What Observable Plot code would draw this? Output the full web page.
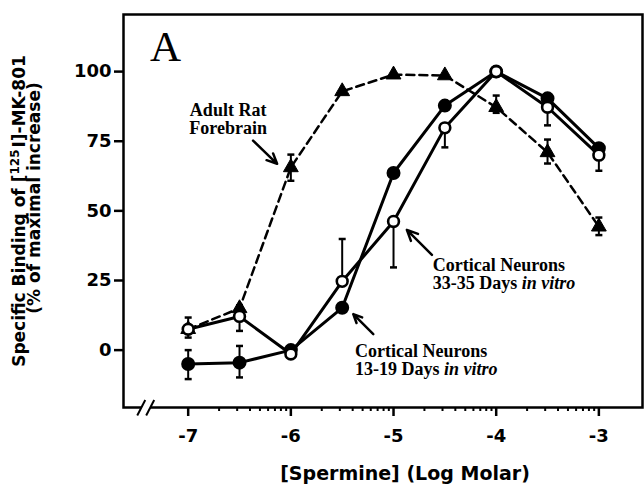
<!DOCTYPE html>
<html>
<head>
<meta charset="utf-8">
<script src="https://cdn.jsdelivr.net/npm/d3@7"></script>
<script src="https://cdn.jsdelivr.net/npm/@observablehq/plot@0.6"></script>
<style>
  html, body { margin: 0; padding: 0; background: #fff; }
  #chart svg { display: block; }
</style>
</head>
<body>
<div id="chart"></div>
<script>
// ---- data ----
const logConc = [-7, -6.5, -6, -5.5, -5, -4.5, -4, -3.5, -3];

const adultY       = [7.5, 15, 65.6, 92.9, 98.9, 98.6, 87.2, 71, 44.3];
const adultErrUp   = [0, 0, 4.6, 0, 0, 0, 4.2, 4.6, 3.3];
const adultErrDown = [0, 0, 4.8, 0, 0, 0, 2.0, 4.0, 3.0];

const div13Y       = [-5, -4.5, 0, 15.2, 63.6, 87.8, 100, 90.4, 72.5];
const div13ErrUp   = [5, 6, 0, 0, 0, 0, 0, 0, 0];
const div13ErrDown = [5.4, 5.3, 0, 0, 0, 0, 0, 0, 0];

const div33Y       = [7.5, 12.1, -1.4, 24.7, 46.2, 79.8, 100, 87.2, 70];
const div33ErrUp   = [4.2, 4, 0, 15.2, 0, 0, 0, 0, 0];
const div33ErrDown = [3, 5.2, 0, 0, 16.5, 7, 0, 6.5, 5.6];

const yTicks = [0, 25, 50, 75, 100];
const xTicks = [-7, -6, -5, -4, -3];
const minorFactors = [2, 3, 4, 5, 6, 7, 8, 9];

const xLabel = "[Spermine] (Log Molar)";
const yLabel1 = "Specific Binding of [125I]-MK-801";
const yLabel2 = "(% of maximal increase)";
const panelLetter = "A";

// annotations (data units)
const labelsCentered = [
  {text: "Adult Rat\nForebrain", x: -6.611, y: 77.7}
];
const labelsLeft = [
  {text: "Cortical Neurons\n33-35 Days in vitro", x: -4.617, y: 22.0},
  {text: "Cortical Neurons\n13-19 Days in vitro", x: -5.375, y: -8.9}
];
const arrows = [
  {x1: -6.368, y1: 75.2, x2: -6.134, y2: 66.9},
  {x1: -4.626, y1: 34.2, x2: -4.870, y2: 43.2},
  {x1: -5.197, y1: 5.75, x2: -5.392, y2: 12.9}
];
const axisBreak = [
  {x1: -7.496, y1: -23.5, x2: -7.418, y2: -17.9},
  {x1: -7.409, y1: -23.5, x2: -7.331, y2: -17.9}
];
const breakGap = [{x1: -7.455, x2: -7.372, y: -20.6}];

// ---- build tables ----
function table(series, ys, up, down) {
  return logConc.map((x, i) => ({series, x, y: ys[i], hi: ys[i] + up[i], lo: ys[i] - down[i], up: up[i], down: down[i]}));
}
const adult = table("adult", adultY, adultErrUp, adultErrDown);
const d13 = table("d13", div13Y, div13ErrUp, div13ErrDown);
const d33 = table("d33", div33Y, div33ErrUp, div33ErrDown);
const all = [...adult, ...d13, ...d33];
const errs = all.filter(d => d.up > 0 || d.down > 0);
const capsHi = all.filter(d => d.up > 0);
const capsLo = all.filter(d => d.down > 0);

const minorTicks = [];
for (const dec of [-7, -6, -5, -4]) for (const k of minorFactors) minorTicks.push(dec + Math.log10(k));

const capSymbol = {draw(ctx) { ctx.moveTo(-3.5, 0); ctx.lineTo(3.5, 0); }};

const sans = "DejaVu Sans";
const serif = "Liberation Serif";
const annoStyle = {lineAnchor: "bottom", lineHeight: 1.0, fontSize: 18, fontWeight: "bold", fontFamily: serif, fill: "#000"};

const chart = Plot.plot({
  width: 644,
  height: 485,
  marginLeft: 123,
  marginRight: 2,
  marginTop: 14,
  marginBottom: 78,
  x: {domain: [-7.63, -2.575]},
  y: {domain: [-20.6, 120.5]},
  style: {background: "#fff", color: "#000"},
  marks: [
    Plot.frame({strokeWidth: 2.5}),
    Plot.axisY({ticks: yTicks, tickSize: 9, tickPadding: 3, strokeWidth: 2.5, fontSize: 18, fontWeight: "bold", fontFamily: sans, label: null}),
    Plot.axisX({ticks: xTicks, tickSize: 9, tickPadding: 13, strokeWidth: 2.5, fontSize: 18, fontWeight: "bold", fontFamily: sans, tickFormat: d => String(d), label: null}),
    Plot.axisX({ticks: minorTicks, tickSize: 4, strokeWidth: 2, tickFormat: () => "", label: null}),
    // axis break
    Plot.link(breakGap, {x1: "x1", x2: "x2", y1: "y", y2: "y", stroke: "#fff", strokeWidth: 5}),
    Plot.link(axisBreak, {x1: "x1", y1: "y1", x2: "x2", y2: "y2", stroke: "#000", strokeWidth: 2}),
    // error bars
    Plot.ruleX(errs, {x: "x", y1: "lo", y2: "hi", stroke: "#000", strokeWidth: 2}),
    Plot.dot(capsHi, {x: "x", y: "hi", symbol: capSymbol, fill: "none", stroke: "#000", strokeWidth: 2.5}),
    Plot.dot(capsLo, {x: "x", y: "lo", symbol: capSymbol, fill: "none", stroke: "#000", strokeWidth: 2.5}),
    // lines
    Plot.line(adult, {x: "x", y: "y", stroke: "#000", strokeWidth: 2.5, strokeDasharray: "8,5"}),
    Plot.line(d13, {x: "x", y: "y", stroke: "#000", strokeWidth: 3}),
    Plot.line(d33, {x: "x", y: "y", stroke: "#000", strokeWidth: 3}),
    // markers
    Plot.dot(adult, {x: "x", y: "y", symbol: "triangle", r: 5.5, fill: "#000", stroke: "#000", strokeWidth: 1}),
    Plot.dot(d13, {x: "x", y: "y", r: 6, fill: "#000", stroke: "#000", strokeWidth: 2}),
    Plot.dot(d33, {x: "x", y: "y", r: 5.4, fill: "#fff", stroke: "#000", strokeWidth: 2.6}),
    // annotations
    Plot.arrow(arrows, {x1: "x1", y1: "y1", x2: "x2", y2: "y2", stroke: "#000", strokeWidth: 2.5, headLength: 9, headAngle: 50}),
    Plot.text(labelsCentered, {x: "x", y: "y", text: "text", textAnchor: "middle", ...annoStyle}),
    Plot.text(labelsLeft, {x: "x", y: "y", text: "text", textAnchor: "start", ...annoStyle}),
    Plot.text([panelLetter], {frameAnchor: "top-left", dx: 42, dy: 33, textAnchor: "middle", lineAnchor: "middle", fontSize: 43, fontFamily: serif, fill: "#000"}),
    Plot.text([xLabel], {frameAnchor: "bottom", dx: 22, dy: 66, textAnchor: "middle", lineAnchor: "middle", fontSize: 19, fontWeight: "bold", fontFamily: sans, fill: "#000"}),
    Plot.text([yLabel1], {frameAnchor: "left", dx: -104, dy: 0, rotate: -90, textAnchor: "middle", lineAnchor: "middle", fontSize: 17, fontWeight: "bold", fontFamily: sans, fill: "#000"}),
    Plot.text([yLabel2], {frameAnchor: "left", dx: -89, dy: -13, rotate: -90, textAnchor: "middle", lineAnchor: "middle", fontSize: 17, fontWeight: "bold", fontFamily: sans, fill: "#000"})
  ]
});

document.getElementById("chart").appendChild(chart);

// ---- text styling: italic "in vitro", superscript 125 ----
const svg = d3.select(chart);
svg.selectAll("text, tspan").each(function () {
  if (this.children.length) return;
  const t = this.textContent;
  const el = d3.select(this);
  if (t.endsWith("in vitro")) {
    el.text(t.slice(0, t.length - "in vitro".length));
    el.append("tspan").attr("font-style", "italic").text("in vitro");
  } else if (t.includes("[125I]")) {
    const [a, b] = t.split("125");
    el.text(a);
    el.append("tspan").attr("dy", "-6").attr("font-size", "12").text("125");
    el.append("tspan").attr("dy", "6").attr("dx", "2").text(b);
  }
});
</script>
</body>
</html>
